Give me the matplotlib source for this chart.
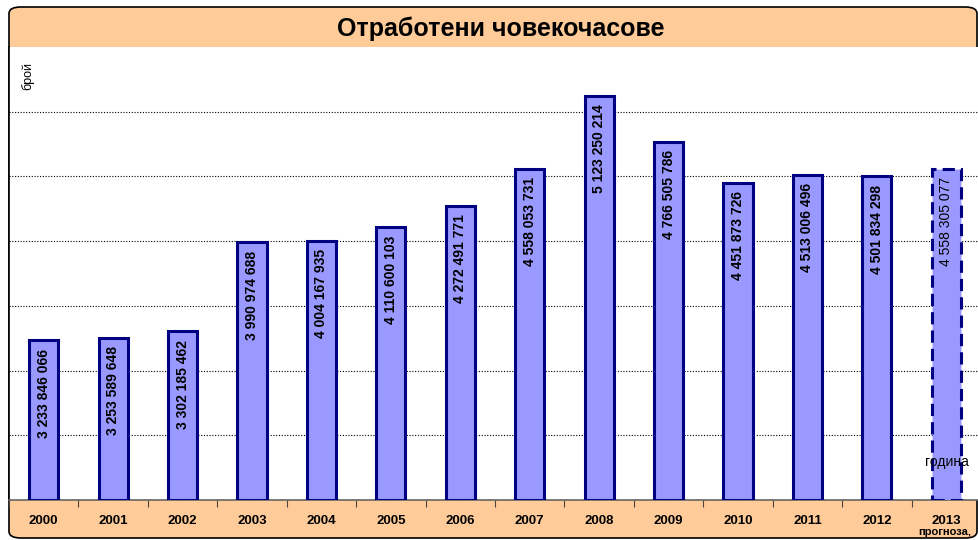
import matplotlib.pyplot as plt
import numpy as np
from matplotlib.patches import FancyBboxPatch

plt.rcParams['font.family'] = ['Liberation Sans', 'DejaVu Sans']

years = ['2000', '2001', '2002', '2003', '2004', '2005', '2006',
         '2007', '2008', '2009', '2010', '2011', '2012', '2013']
hours = [3233846066, 3253589648, 3302185462, 3990974688, 4004167935,
         4110600103, 4272491771, 4558053731, 5123250214, 4766505786,
         4451873726, 4513006496, 4501834298, 4558305077]
forecast = [False] * 13 + [True]

W, H = 979, 540
fig = plt.figure(figsize=(W / 100, H / 100), dpi=100)
fig.patch.set_facecolor('white')

# orange frame with rounded corners (title band + x-axis band)
frame = FancyBboxPatch((9 / W, 2 / H), 968 / W, 531 / H,
                       boxstyle='round,pad=0,rounding_size=0.012',
                       transform=fig.transFigure, facecolor='#FFCC99',
                       edgecolor='black', linewidth=1.2, zorder=-5)
fig.patches.append(frame)

fig.text(501 / W, 1 - 29 / H, 'Отработени човекочасове', ha='center', va='center',
         fontsize=18, fontweight='bold')

ax = fig.add_axes([9 / W, 40 / H, 972 / W, 453 / H], zorder=2)
ax.set_facecolor('white')

x = np.arange(len(years))
for i, (v, fc) in enumerate(zip(hours, forecast)):
    if fc:
        ax.bar(x[i], v - 2e9, bottom=2e9, width=0.42, color='#9999FF',
               edgecolor='#000080', linewidth=2.2, linestyle=(0, (4, 2)), zorder=3)
    else:
        ax.bar(x[i], v - 2e9, bottom=2e9, width=0.42, color='#9999FF',
               edgecolor='#000080', linewidth=2.2, zorder=3)
    ax.annotate(f'{v:,}'.replace(',', ' '), (x[i], v), xytext=(0, -6),
                textcoords='offset points', rotation=90, ha='center', va='top',
                fontsize=10, fontweight='normal' if fc else 'bold', zorder=4)

ax.set_xlim(-0.5, len(years) - 0.5)
ax.set_ylim(2e9, 5.5e9)
ax.set_yticks(np.arange(2.5e9, 5.01e9, 0.5e9))
ax.yaxis.grid(True, linestyle=(0, (1, 1.5)), color='black', linewidth=0.8, zorder=1)
ax.tick_params(axis='y', left=False, labelleft=False)

ax.set_xticks(np.arange(-0.5, len(years) - 0.4, 1))
ax.set_xticklabels([])
ax.set_xticks(x, minor=True)
ax.set_xticklabels(years, minor=True, fontsize=9.5, fontweight='bold')
ax.tick_params(axis='x', which='major', length=5, direction='out', color='#444444')
ax.tick_params(axis='x', which='minor', length=3, width=0.8, direction='in',
               color='#333366', pad=11)
for t in ax.xaxis.get_minor_ticks():
    t.tick1line.set_zorder(5)

for s in ['top', 'right']:
    ax.spines[s].set_visible(False)
ax.spines['left'].set_color('black')
ax.spines['left'].set_linewidth(1.2)
ax.spines['bottom'].set_color('#666666')
ax.spines['bottom'].set_linewidth(1.2)

fig.text(28 / W, 1 - 76 / H, 'брой', rotation=90, ha='center', va='center', fontsize=9)
fig.text(925 / W, 1 - 462 / H, 'година', ha='left', va='center', fontsize=10, zorder=5)
fig.text(918 / W, 1 - 532 / H, 'прогноза,', ha='left', va='center',
         fontsize=8, fontweight='bold')

fig.savefig('out.png', dpi=100)
